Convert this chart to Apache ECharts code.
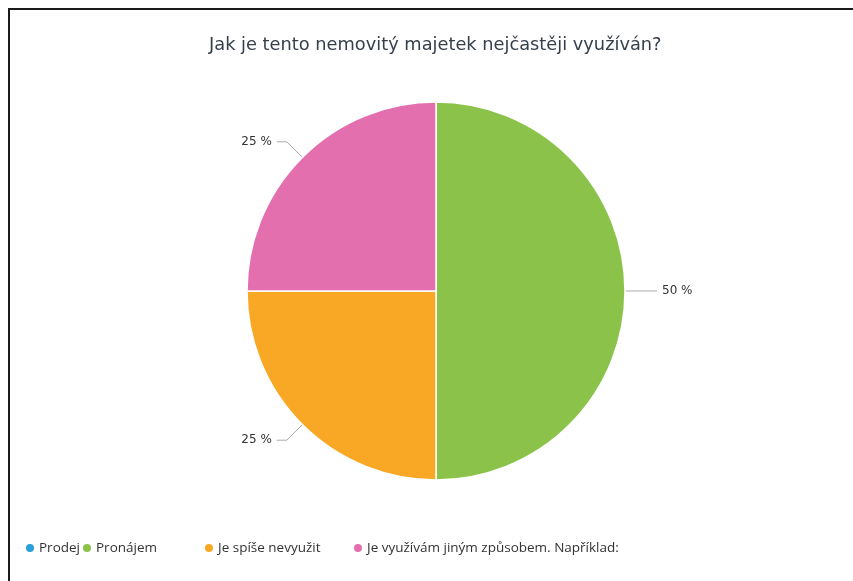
<!DOCTYPE html>
<html>
<head>
<meta charset="utf-8">
<script src="https://cdn.jsdelivr.net/npm/echarts@6/dist/echarts.min.js"></script>
<style>html,body{margin:0;padding:0;background:#fff;}#c{width:853px;height:581px;}</style>
</head>
<body>
<div id="c"></div>
<script>
const titleText = 'Jak je tento nemovitý majetek nejčastěji využíván?';
const categories = ['Prodej', 'Pronájem', 'Je spíše nevyužit', 'Je využívám jiným způsobem. Například:'];
const values = [0, 2, 1, 1];
const colors = ['#2a9fd8', '#8bc34a', '#f9a825', '#e36fae'];
const legendLefts = [24, 81, 203, 352];

const chart = echarts.init(document.getElementById('c'));
const total = values.reduce((a, b) => a + b, 0);
chart.setOption({
  animation: false,
  color: colors,
  title: {
    text: titleText, left: 204, top: 31,
    textStyle: { fontFamily: 'DejaVu Sans', fontSize: 17.8, fontWeight: 'normal', color: '#36404d' }
  },
  graphic: [{
    type: 'rect', shape: { x: 9, y: 9, width: 900, height: 700 },
    style: { fill: 'none', stroke: '#1a1a1a', lineWidth: 2 }, silent: true
  }],
  legend: categories.map((c, i) => ({
    data: [c], left: legendLefts[i], top: 541, padding: 0, icon: 'circle', itemWidth: 10, itemHeight: 10, itemGap: 4,
    textStyle: { fontFamily: 'Open Sans', fontSize: 13.5, color: '#333', padding: [0, 0, 0, -1] }, selectedMode: false
  })),
  series: [{
    type: 'pie', center: [436, 291], radius: [0, 189], startAngle: 90, clockwise: true,
    avoidLabelOverlap: false,
    itemStyle: { borderColor: '#fff', borderWidth: 1.5 },
    label: {
      formatter: p => Math.round(p.value / total * 100) + ' %',
      fontFamily: 'DejaVu Sans', fontSize: 12, color: '#333'
    },
    labelLine: { length: 22, length2: 10, lineStyle: { color: '#aaa', width: 1 } },
    data: categories.map((c, i) => ({
      name: c, value: values[i],
      label: { show: values[i] > 0 }, labelLine: { show: values[i] > 0 }
    }))
  }]
});
</script>
</body>
</html>
